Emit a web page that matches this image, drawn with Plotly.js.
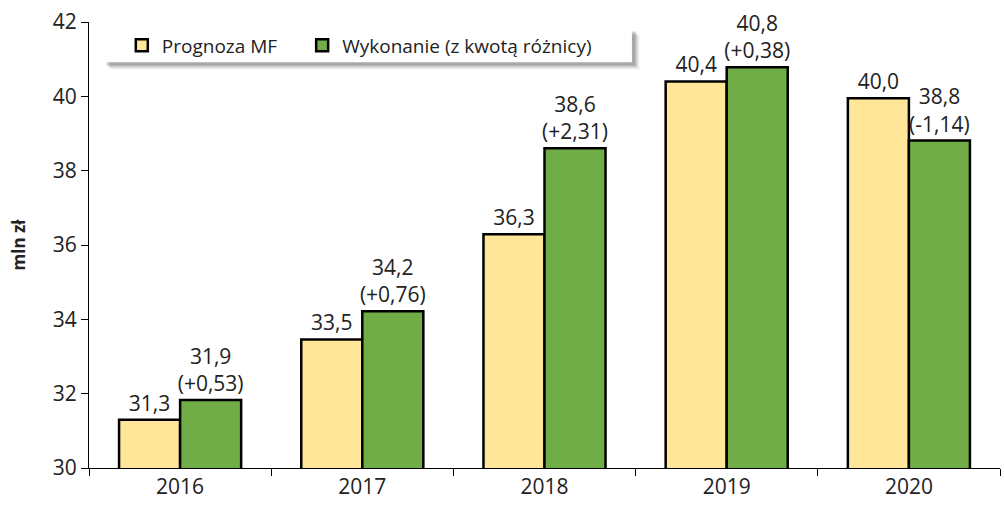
<!DOCTYPE html>
<html>
<head>
<meta charset="utf-8">
<script src="https://cdn.plot.ly/plotly-3.0.1.min.js"></script>
<style>
  body { margin: 0; background: #fff; }
  #chart { width: 1004px; height: 510px; }
</style>
</head>
<body>
<div id="chart"></div>
<script>
var years = ['2016', '2017', '2018', '2019', '2020']
var forecast = [31.3, 33.46, 36.29, 40.4, 39.95]
var actual = [31.83, 34.22, 38.6, 40.78, 38.81]
var forecastLabels = ['31,3', '33,5', '36,3', '40,4', '40,0']
var actualLabels = ['31,9<br>(+0,53)', '34,2<br>(+0,76)', '38,6<br>(+2,31)', '40,8<br>(+0,38)', '38,8<br>(-1,14)']

var font = 'Open Sans, Liberation Sans, sans-serif'

var traceForecast = {
    type: 'bar',
    name: 'Prognoza MF',
    x: years,
    y: forecast,
    text: forecastLabels,
    textposition: 'outside',
    constraintext: 'none',
    textfont: { family: font, size: 21, color: '#222' },
    cliponaxis: false,
    marker: { color: '#FFE699', line: { color: '#000', width: 2.5 } },
    legend: 'legend',
    hoverinfo: 'x+y'
}

var traceActual = {
    type: 'bar',
    name: 'Wykonanie (z kwotą różnicy)',
    x: years,
    y: actual,
    text: actualLabels,
    textposition: 'outside',
    constraintext: 'none',
    textfont: { family: font, size: 21, color: '#222' },
    cliponaxis: false,
    marker: { color: '#70AD47', line: { color: '#000', width: 2.5 } },
    legend: 'legend2',
    hoverinfo: 'x+y'
}

// legend box: soft shadow + white panel (legends themselves are transparent)
var shadow = function (dx, dy, a) {
    return {
        type: 'rect', xref: 'paper', yref: 'paper', layer: 'above',
        x0: 0.0154 + dx, x1: 0.596 + dx, y0: 0.910 - dy, y1: 0.9865 - dy,
        fillcolor: 'rgba(0,0,0,' + a + ')', line: { width: 0 }
    }
}

var legendStyle = function (x) {
    return {
        orientation: 'h',
        x: x,
        y: 0.99,
        xanchor: 'left',
        yanchor: 'top',
        bgcolor: 'rgba(0,0,0,0)',
        font: { family: font, size: 19, color: '#222' },
        itemwidth: 30
    }
}

var layout = {
    width: 1004,
    height: 510,
    margin: { l: 89, r: 4, t: 22, b: 42 },
    paper_bgcolor: '#fff',
    plot_bgcolor: '#fff',
    font: { family: font, size: 20, color: '#222' },
    barmode: 'group',
    bargap: 0.33,
    bargroupgap: 0,
    showlegend: true,
    legend: legendStyle(0.036),
    legend2: legendStyle(0.234),
    xaxis: {
        type: 'category',
        showline: true,
        linecolor: '#000',
        linewidth: 1,
        ticks: 'outside',
        tickson: 'boundaries',
        ticklen: 7,
        tickcolor: '#000',
        tickfont: { family: font, size: 21, color: '#222' },
        showgrid: false,
        zeroline: false
    },
    yaxis: {
        range: [30, 42],
        dtick: 2,
        showline: true,
        linecolor: '#000',
        linewidth: 1,
        ticks: 'outside',
        ticklen: 7,
        tickcolor: '#000',
        tickfont: { family: font, size: 21, color: '#222' },
        showgrid: false,
        zeroline: false,
        title: { text: '<b>mln zł</b>', font: { family: font, size: 17, color: '#222' }, standoff: 22 }
    },
    shapes: [
        shadow(0.008, 0.016, 0.08),
        shadow(0.006, 0.012, 0.12),
        shadow(0.004, 0.008, 0.18),
        {
            type: 'rect', xref: 'paper', yref: 'paper', layer: 'above',
            x0: 0.0154, x1: 0.596, y0: 0.910, y1: 0.9865,
            fillcolor: '#fff', line: { width: 0 }
        }
    ]
}

Plotly.newPlot('chart', [traceForecast, traceActual], layout, { displayModeBar: false })
</script>
</body>
</html>
